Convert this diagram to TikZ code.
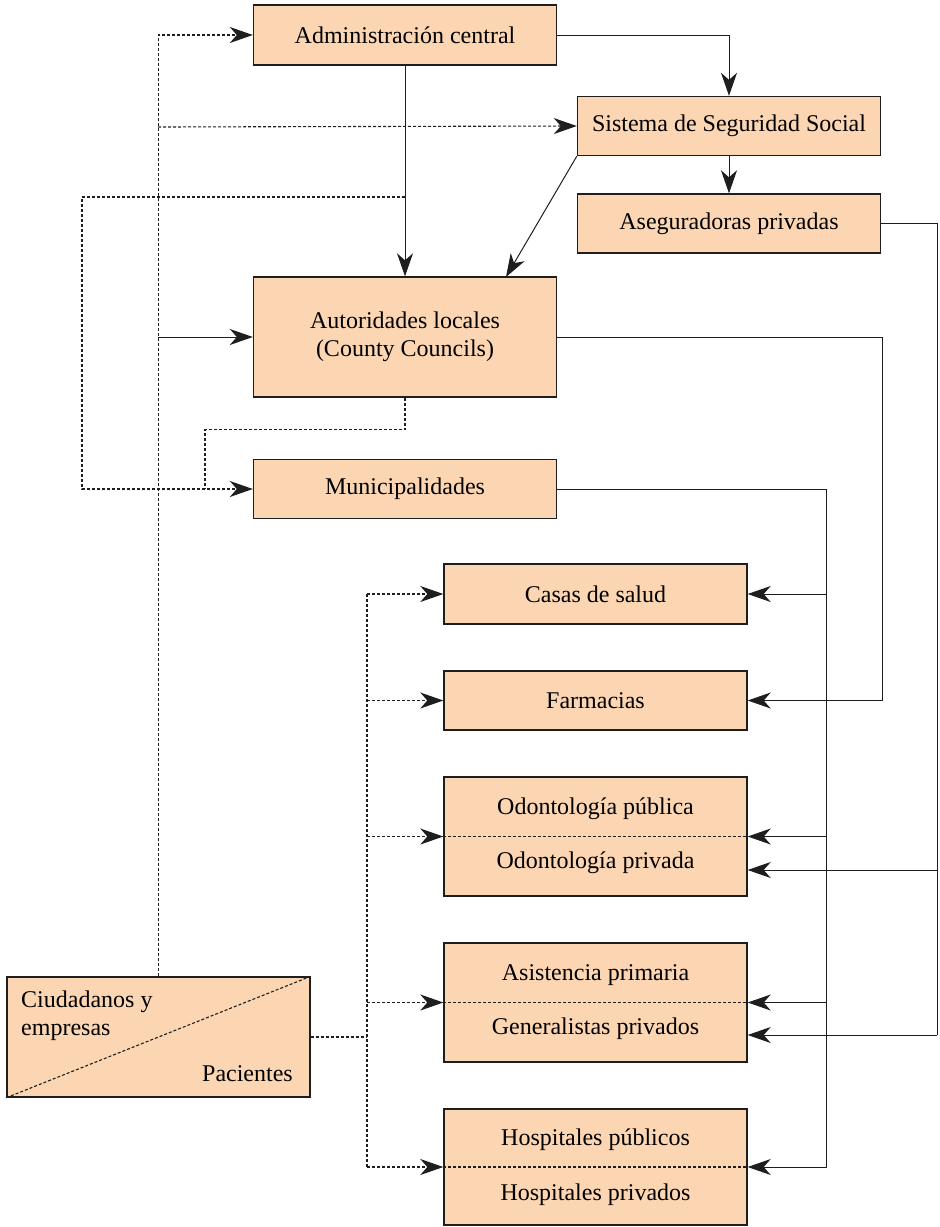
\documentclass[tikz,border=0pt]{standalone}
\usepackage{fontspec}
\setmainfont{Liberation Serif}
\usetikzlibrary{arrows.meta,calc}
\definecolor{peach}{RGB}{252,214,178}
\definecolor{ink}{RGB}{30,30,30}
\begin{document}
\begin{tikzpicture}[x=1pt,y=-1pt,
 box/.style={draw=ink,line width=1.4pt,fill=peach,inner sep=0pt,minimum width=303pt,font=\fontsize{24}{28}\selectfont,align=center},
 lbl/.style={inner sep=0pt,font=\fontsize{24}{28}\selectfont,align=center},
 link/.style={draw=ink,line width=1pt},
 tip/.style={-{Stealth[length=23pt,width=16pt,inset=7pt]}},
 dsh/.style={draw=ink,line width=1.1pt,dash pattern=on 3pt off 2pt}]
\useasboundingbox (0,0) rectangle (940,1227);

% boxes
\node[box,minimum height=60pt] (admin) at (405,35) {Administración central};
\node[box,minimum height=59pt] (sss) at (729,126) {Sistema de Seguridad Social};
\node[box,minimum height=59pt] (aseg) at (729,223.5) {Aseguradoras privadas};
\node[box,minimum height=120pt] (auto) at (405,337) {Autoridades locales\\(County Councils)};
\node[box,minimum height=59pt] (muni) at (405,489) {Municipalidades};
\node[box,minimum height=60pt] (casas) at (595.5,594) {Casas de salud};
\node[box,minimum height=59pt] (farm) at (595.5,700.5) {Farmacias};
\node[box,minimum height=119pt] (odont) at (595.5,836.5) {};
\node[box,minimum height=119pt] (asist) at (595.5,1002.5) {};
\node[box,minimum height=116pt] (hosp) at (595.5,1167) {};
\node[box,minimum height=120pt] (ciud) at (158.5,1037) {};

% two-part labels
\draw[dsh] (odont.west) -- (odont.east);
\draw[dsh] (asist.west) -- (asist.east);
\draw[dsh] (hosp.west) -- (hosp.east);
\node[lbl] (odpub) at ($(odont.center)+(0,-28)$) {Odontología pública};
\node[lbl] (odpri) at ($(odont.center)+(0,26)$) {Odontología privada};
\node[lbl] (aspri) at ($(asist.center)+(0,-27)$) {Asistencia primaria};
\node[lbl] (gepri) at ($(asist.center)+(0,26)$) {Generalistas privados};
\node[lbl] (hopub) at ($(hosp.center)+(0,-27)$) {Hospitales públicos};
\node[lbl] (hopri) at ($(hosp.center)+(0,28)$) {Hospitales privados};

% citizens box
\draw[dsh] (ciud.south west) -- (ciud.north east);
\node[lbl,anchor=west,align=left] (ciudt) at (21,1016) {Ciudadanos y\\empresas};
\node[lbl,anchor=east] (pac) at (293,1074) {Pacientes};

% solid connectors
\draw[link,tip] (admin.east) -| (sss.north);
\draw[link,tip] (admin.south) -- (auto.north);
\draw[link,tip] (sss.south) -- (aseg.north);
\coordinate (autoT) at (506,277);
\draw[link,tip] (sss.south west) -- (autoT);
\coordinate (L1) at (158,337);
\draw[link,tip] (L1) -- (auto.west);

\draw[link,tip] (auto.east) -- ++(325,0) |- (farm.east);

\coordinate (M0) at (826,489);
\draw[link] (muni.east) -- (M0);
\draw[link,tip] (M0) |- (hosp.east);
\coordinate (M1) at (826,594);
\coordinate (M2) at (826,836.5);
\coordinate (M3) at (826,1002.5);
\draw[link,tip] (M1) -- (casas.east);
\draw[link,tip] (M2) -- (odont.east);
\draw[link,tip] (M3) -- (asist.east);

\coordinate (A1) at (937,870);
\coordinate (A2) at (937,1035);
\draw[link] (aseg.east) -| (A2);
\draw[link,tip] (A1) -- (A1 -| odont.east);
\draw[link,tip] (A2) -- (A2 -| asist.east);

% dashed connectors
\draw[dsh,tip] (ciud.north) |- (admin.west);
\coordinate (D1) at (158,127);
\draw[dsh,tip] (D1) -- (sss.west);
\coordinate (D2) at (405,197);
\draw[dsh,tip] (D2) -- (82,197) |- (muni.west);
\coordinate (D3) at (205,489);
\draw[dsh] (auto.south) -- ++(0,32) -| (D3);

\coordinate (P0) at (367,1037);
\draw[dsh] (ciud.east) -- (P0);
\coordinate (P1) at (367,594);
\coordinate (P2) at (367,700.5);
\coordinate (P3) at (367,836.5);
\coordinate (P4) at (367,1002.5);
\coordinate (P5) at (367,1167);
\draw[dsh] (P1) -- (P5);
\draw[dsh,tip] (P1) -- (casas.west);
\draw[dsh,tip] (P2) -- (farm.west);
\draw[dsh,tip] (P3) -- (odont.west);
\draw[dsh,tip] (P4) -- (asist.west);
\draw[dsh,tip] (P5) -- (hosp.west);
\end{tikzpicture}
\end{document}
